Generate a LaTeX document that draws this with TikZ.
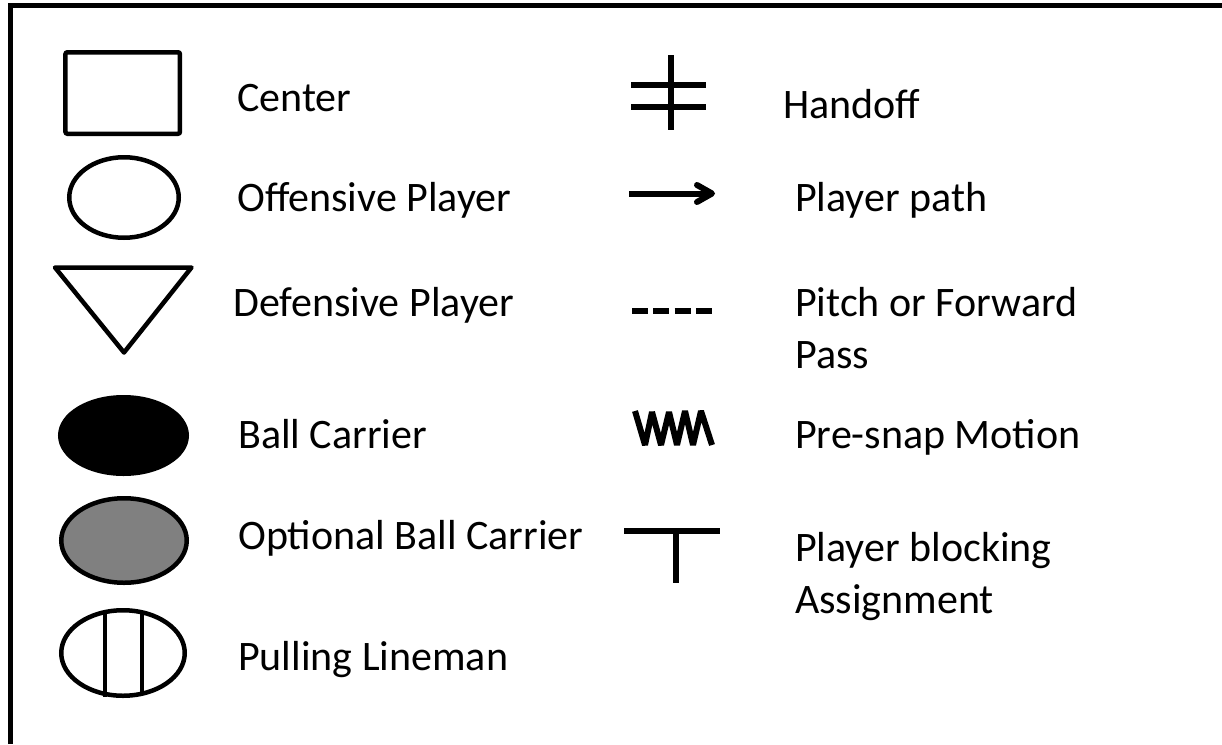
\documentclass[tikz,border=0pt]{standalone}
\usepackage{fontspec}
\setmainfont{Carlito}
\usetikzlibrary{shapes.geometric,calc}
\begin{document}
\begin{tikzpicture}[x=1pt,y=-1pt,
  lbl/.style={anchor=base west,inner sep=0pt,font=\fontsize{42}{52}\selectfont},
  ell/.style={ellipse,draw=black,line width=4.5pt,inner sep=0pt},
  symline/.style={line width=5.5pt},
  frameline/.style={line width=5pt,line join=miter}]
\fill[white] (0,0) rectangle (1222,744);
\useasboundingbox (0,0) rectangle (1222,744);
% frame (only left and top edges are visible)
\coordinate (fbl) at (10.5,744);
\coordinate (ftl) at (10.5,5.5);
\coordinate (ftr) at (1222,5.5);
\draw[frameline] (fbl) -- (ftl) -- (ftr);

% left column symbols
\node[draw=black,line width=4.5pt,inner sep=0pt,rounded corners=2pt,
      minimum width=114.5pt,minimum height=81.5pt] (center) at (122.7,93) {};
\node[ell,minimum width=109.5pt,minimum height=80.5pt] (off) at (124,197.5) {};
\coordinate (tA) at (55,267.5);
\coordinate (tB) at (191.5,267.5);
\coordinate (tC) at (124,352.5);
\draw[line width=4.5pt,line join=round] (tA) -- (tB) -- (tC) -- cycle;
\node[ell,fill=black,minimum width=126.5pt,minimum height=76.5pt] (ball) at (123.5,435.5) {};
\node[ell,fill=gray,minimum width=125.5pt,minimum height=84.5pt] (opt) at (124,540.5) {};
\node[ell,minimum width=123.5pt,minimum height=85.5pt] (pull) at (123,653) {};
\draw[line width=4.5pt] ($(pull.center)+(-18,-42)$) -- ($(pull.center)+(-18,44)$);
\draw[line width=4.5pt] ($(pull.center)+(19,-42)$) -- ($(pull.center)+(19,42)$);

% left column labels
\node[lbl] (lcenter) at (237,111) {Center};
\node[lbl] (loff) at (237,211) {Offensive Player};
\node[lbl] (ldef) at (233,316) {Defensive Player};
\node[lbl] (lball) at (238,448) {Ball Carrier};
\node[lbl] (lopt) at (238,549) {Optional Ball Carrier};
\node[lbl] (lpull) at (238,670) {Pulling Lineman};

% right column symbols
\coordinate (hv1) at (671,55);
\coordinate (hv2) at (671,130);
\coordinate (ha1) at (631,85);
\coordinate (ha2) at (706,85);
\coordinate (hb1) at (631,107);
\coordinate (hb2) at (706,107);
\draw[symline] (hv1) -- (hv2);
\draw[symline] (ha1) -- (ha2);
\draw[symline] (hb1) -- (hb2);

\coordinate (p1) at (629,193.5);
\coordinate (p2) at (711,193.5);
\coordinate (pu) at (697,185);
\coordinate (pd) at (697,202);
\draw[line width=6pt] (p1) -- (p2);
\draw[line width=6pt,line cap=round,line join=round] (pu) -- (712,193.5) -- (pd);

\coordinate (d1) at (632,310.7);
\coordinate (d2) at (712,310.7);
\draw[line width=6pt,dash pattern=on 16pt off 5.3pt] (d1) -- (d2);

\coordinate (z0) at (635,411);
\draw[line width=6pt,line join=miter,miter limit=3] (z0) -- (645,445) -- (652,412) -- (661,445) -- (669,412) -- (677,445) -- (685,411) -- (693,445) -- (701,411) -- (712,445);

\coordinate (t1) at (624,531);
\coordinate (t2) at (720,531);
\coordinate (t3) at (676,531);
\coordinate (t4) at (676,583);
\draw[symline] (t1) -- (t2);
\draw[symline] (t3) -- (t4);

% right column labels
\node[lbl] (lhand) at (783,118) {Handoff};
\node[lbl] (lpath) at (795,211) {Player path};
\node[lbl] (lpitch) at (795,316) {Pitch or Forward};
\node[lbl] (lpass) at (795,368) {Pass};
\node[lbl] (lmot) at (795,448) {Pre-snap Motion};
\node[lbl] (lblk) at (795,561) {Player blocking};
\node[lbl] (lasg) at (795,613) {Assignment};
\end{tikzpicture}
\end{document}
